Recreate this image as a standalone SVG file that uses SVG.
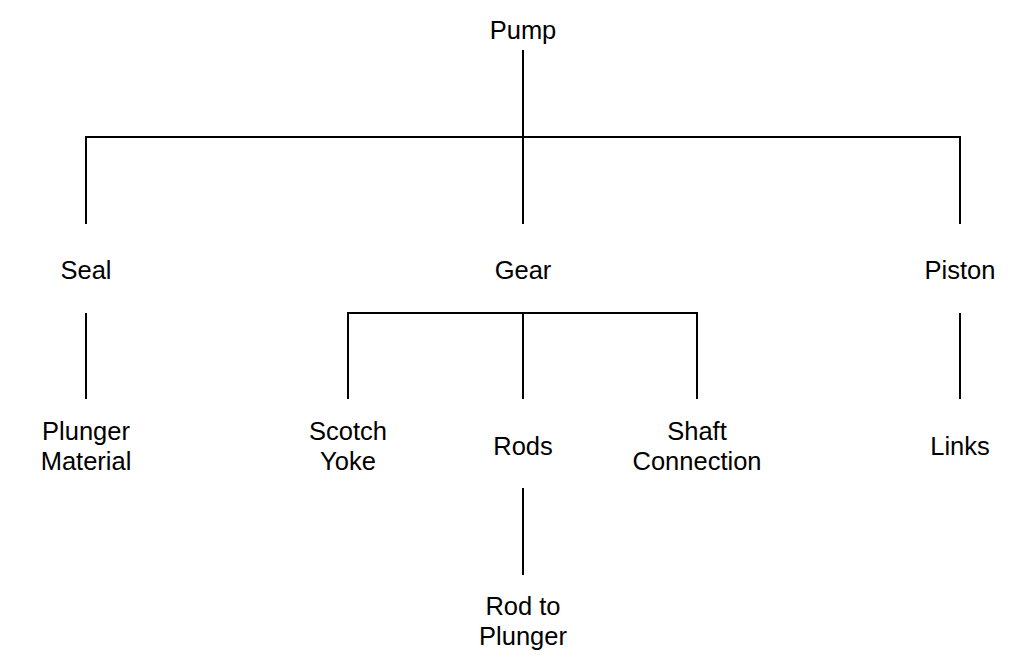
<svg xmlns="http://www.w3.org/2000/svg" width="1027" height="671" viewBox="0 0 1027 671">
<style>
text{font-family:"Liberation Sans",Arial,sans-serif;font-size:25.5px;fill:#000;text-anchor:middle}
.c line,.c path{stroke:#000;stroke-width:2;fill:none}
</style>
<rect width="1027" height="671" fill="#fff"/>
<g class="c" id="connectors">
<line x1="523" y1="50" x2="523" y2="224"/>
<path d="M86 224V137H960V224"/>
<line x1="86" y1="313" x2="86" y2="399"/>
<path d="M348 399V313H697V399"/>
<line x1="523" y1="313" x2="523" y2="399"/>
<line x1="960" y1="313" x2="960" y2="399"/>
<line x1="523" y1="488" x2="523" y2="575"/>
</g>
<g id="pump"><text x="523" y="39">Pump</text></g>
<g id="seal"><text x="86" y="279">Seal</text></g>
<g id="gear"><text x="523" y="279">Gear</text></g>
<g id="piston"><text x="960" y="279">Piston</text></g>
<g id="plunger-material"><text x="86" y="440">Plunger</text><text x="86" y="470">Material</text></g>
<g id="scotch-yoke"><text x="348" y="440">Scotch</text><text x="348" y="470">Yoke</text></g>
<g id="rods"><text x="523" y="455">Rods</text></g>
<g id="shaft-connection"><text x="697" y="440">Shaft</text><text x="697" y="470">Connection</text></g>
<g id="links"><text x="960" y="455">Links</text></g>
<g id="rod-to-plunger"><text x="523" y="615">Rod to</text><text x="523" y="645">Plunger</text></g>
</svg>
